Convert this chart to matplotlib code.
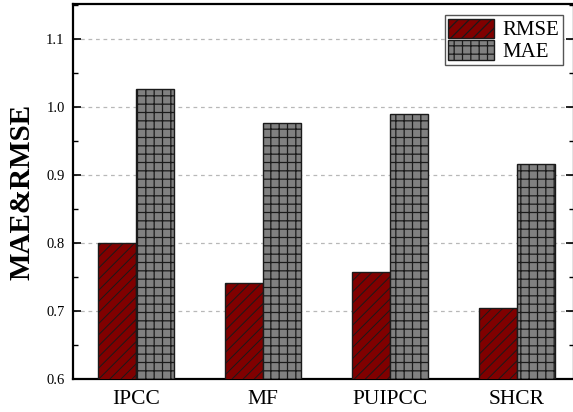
import matplotlib
matplotlib.use("Agg")
import matplotlib.pyplot as plt
import numpy as np
from matplotlib.ticker import MultipleLocator

categories = ["IPCC", "MF", "PUIPCC", "SHCR"]
rmse = [0.800, 0.741, 0.758, 0.705]
mae = [1.027, 0.977, 0.990, 0.917]

plt.rcParams['font.family'] = 'serif'
plt.rcParams['font.serif'] = ['Liberation Serif', 'Times New Roman', 'DejaVu Serif']
plt.rcParams['hatch.color'] = 'black'

fig = plt.figure(figsize=(5.73, 4.12), dpi=100)
ax = fig.add_axes([73/573, 33/412, 501/573, 375/412])

x = np.arange(len(categories))
w = 0.3
plt.rcParams['hatch.linewidth'] = 0.7
ax.bar(x - w/2, rmse, w, color='#800000', edgecolor='#1a1a1a', linewidth=1.0,
       hatch='///', label='RMSE', zorder=3)
plt.rcParams['hatch.linewidth'] = 0.9
ax.bar(x + w/2, mae, w, color='#808080', edgecolor='#1a1a1a', linewidth=1.0,
       hatch='++', label='MAE', zorder=3)

ax.set_xlim(-0.496, 3.449)
ax.set_ylim(0.6, 1.152)
ax.set_xticks(x)
ax.set_xticklabels(categories, fontsize=15.5)
ax.yaxis.set_major_locator(MultipleLocator(0.1))
ax.yaxis.set_minor_locator(MultipleLocator(0.05))
ax.set_yticks([0.6, 0.7, 0.8, 0.9, 1.0, 1.1])
ax.set_yticklabels(['0.6', '0.7', '0.8', '0.9', '1.0', '1.1'], fontsize=10.5)
ax.tick_params(axis='x', length=0, pad=8)
ax.tick_params(axis='y', which='major', direction='in', length=6, width=1.2, right=True, pad=6)
ax.tick_params(axis='y', which='minor', direction='in', length=3.5, width=1.0, right=True)
ax.yaxis.grid(True, which='major', linestyle=(0, (3, 3)), color='#b8b8b8', linewidth=0.9, zorder=0)
ax.set_axisbelow(True)
for s in ax.spines.values():
    s.set_linewidth(1.6)
    s.set_color('black')

ax.set_ylabel('MAE&RMSE', fontsize=21, fontweight='bold', labelpad=8)

leg = ax.legend(loc='upper right', fontsize=15, fancybox=False, edgecolor='#555555',
                labelspacing=0.0, handlelength=2.2, handleheight=1.05, borderpad=0.15,
                handletextpad=0.4, borderaxespad=0.55, framealpha=1)
leg.get_frame().set_linewidth(1.0)

fig.savefig('out.png', dpi=100)
